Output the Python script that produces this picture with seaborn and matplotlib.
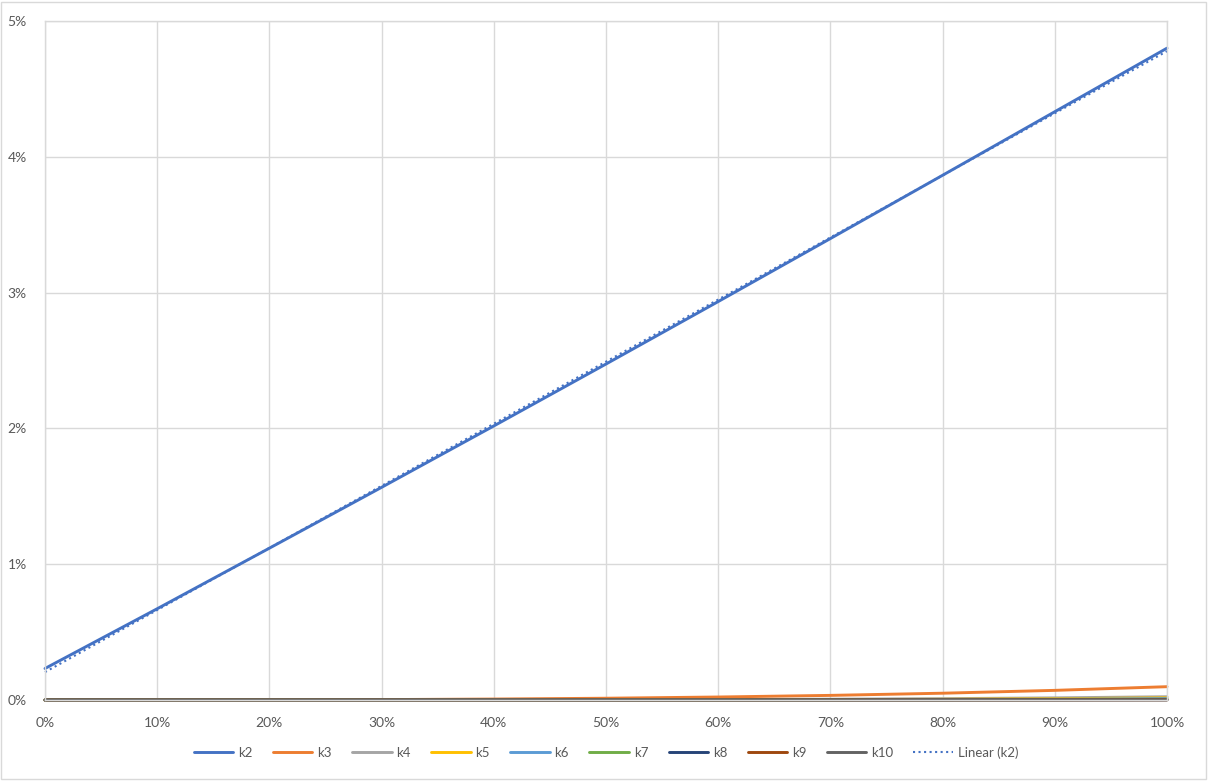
import numpy as np
import pandas as pd
import seaborn as sns
import matplotlib.pyplot as plt
from matplotlib.patches import Rectangle

sns.set_theme(style='white')
plt.rcParams['font.family'] = ['Lato', 'DejaVu Sans']

# x positions (percent) and series values (percent)
x_pct = [0, 10, 20, 30, 40, 50, 60, 70, 80, 90, 100]

k2 = [0.232, 0.672, 1.118, 1.566, 2.018, 2.474, 2.934, 3.398, 3.864, 4.332, 4.800]
k3 = [0.0, 0.0002, 0.001, 0.003, 0.007, 0.013, 0.022, 0.034, 0.050, 0.071, 0.098]
k4 = [0.0, 0.0, 0.0, 0.0002, 0.0006, 0.0015, 0.0031, 0.0058, 0.0098, 0.0157, 0.024]
k5 = [0.0, 0.0, 0.0, 0.0, 0.0002, 0.0005, 0.0012, 0.0027, 0.0052, 0.0094, 0.016]
k6 = [0.0, 0.0, 0.0, 0.0, 0.0, 0.0002, 0.0005, 0.0012, 0.0026, 0.0053, 0.010]
k7 = [0.0, 0.0, 0.0, 0.0, 0.0, 0.0, 0.0001, 0.0004, 0.0010, 0.0024, 0.005]
k8 = [0.0, 0.0, 0.0, 0.0, 0.0, 0.0, 0.0, 0.0001, 0.0003, 0.0009, 0.002]
k9 = [0.0, 0.0, 0.0, 0.0, 0.0, 0.0, 0.0, 0.0, 0.0001, 0.0004, 0.001]
k10 = [0.0, 0.0, 0.0, 0.0, 0.0, 0.0, 0.0, 0.0, 0.0, 0.0002, 0.0005]

series_names = ['k2', 'k3', 'k4', 'k5', 'k6', 'k7', 'k8', 'k9', 'k10']
series_values = [k2, k3, k4, k5, k6, k7, k8, k9, k10]
colors = ['#4472C4', '#ED7D31', '#A5A5A5', '#FFC000', '#5B9BD5',
          '#70AD47', '#264478', '#9E480E', '#636363']

x_ticks = [0, 10, 20, 30, 40, 50, 60, 70, 80, 90, 100]
y_ticks = [0, 1, 2, 3, 4, 5]

# ------------------------------------------
# Figure
# ------------------------------------------
fig = plt.figure(figsize=(12.08, 7.82), dpi=100)
ax = fig.add_axes([45 / 1208, 1 - 700 / 782, (1167 - 45) / 1208, (700 - 21) / 782])

# light border around the whole chart
fig.patches.append(Rectangle((0.001, 0.004), 0.997, 0.994, transform=fig.transFigure,
                             fill=False, edgecolor='#D9D9D9', linewidth=1))

for name, vals, col in zip(series_names, series_values, colors):
    sns.lineplot(x=x_pct, y=vals, ax=ax, color=col, linewidth=2.1, label=name)
    if name == 'k2':
        sns.regplot(x=np.array(x_pct), y=np.array(k2), ax=ax, scatter=False, ci=None,
                    truncate=True, label='Linear (k2)',
                    line_kws={'color': '#4472C4', 'linestyle': ':', 'linewidth': 1.5})

for ln in ax.get_lines():
    ln.set_clip_on(False)

ax.set_xlim(0, 100)
ax.set_ylim(0, 5)
ax.set_xticks(x_ticks)
ax.set_yticks(y_ticks)
ax.set_xticklabels([f'{v}%' for v in x_ticks])
ax.set_yticklabels([f'{v}%' for v in y_ticks])
ax.set_xlabel('')
ax.set_ylabel('')

ax.grid(True, color='#D9D9D9', linewidth=1)
ax.set_axisbelow(True)
for side in ['top', 'right', 'left', 'bottom']:
    ax.spines[side].set_color('#D9D9D9')
    ax.spines[side].set_linewidth(1)

ax.tick_params(axis='both', length=0, labelsize=10, labelcolor='#595959')
ax.tick_params(axis='y', pad=13)
ax.tick_params(axis='x', pad=12)

# legend: k2..k10 then the trend line
handles, labels = ax.get_legend_handles_labels()
order = series_names + ['Linear (k2)']
hmap = dict(zip(labels, handles))
ax.legend([hmap[l] for l in order], order, loc='center', bbox_to_anchor=(0.5, -0.077),
          ncol=10, frameon=False, fontsize=9.5, labelcolor='#595959',
          handlelength=3.0, handletextpad=0.35, columnspacing=1.55)

plt.savefig('out.png', dpi=100)
